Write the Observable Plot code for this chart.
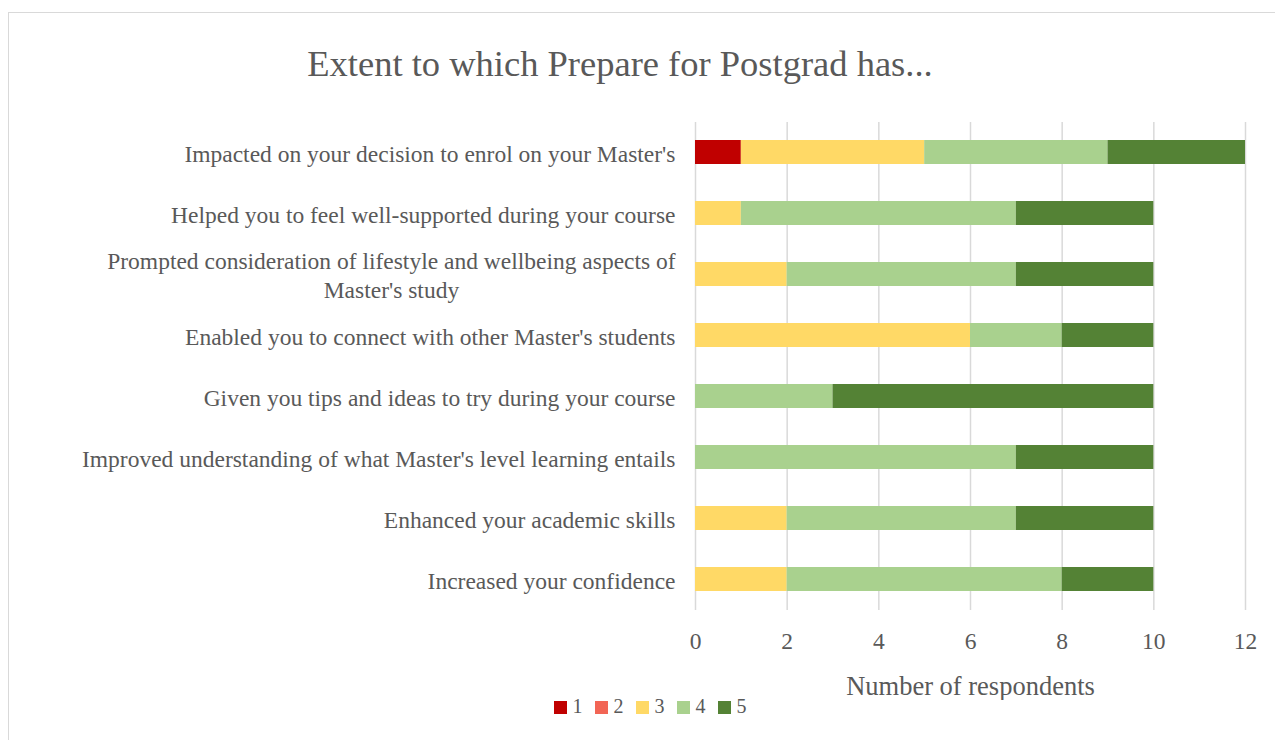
<!DOCTYPE html>
<html>
<head>
<meta charset="utf-8">
<script src="https://cdn.jsdelivr.net/npm/d3@7"></script>
<script src="https://cdn.jsdelivr.net/npm/@observablehq/plot@0.6"></script>
<style>
  html, body { margin: 0; padding: 0; background: #fff; width: 1275px; height: 740px; overflow: hidden; position: relative; font-family: "Liberation Serif", "DejaVu Serif", serif; color: #595959; }
  #frame { position: absolute; left: 8px; top: 12px; width: 1400px; height: 900px; border: 1.5px solid #d9d9d9; box-sizing: border-box; pointer-events: none; }
  #title { position: absolute; left: 0; width: 1240px; top: 42px; text-align: center; font-size: 36.5px; line-height: 44px; color: #595959; }
  #chart { position: absolute; left: 0; top: 100px; }
  #legend { position: absolute; left: 0; width: 1300px; top: 695px; text-align: center; font-size: 20px; color: #595959; }
  #legend span.item { display: inline-block; margin: 0 6px; }
  #legend span.sw { display: inline-block; width: 13px; height: 13px; margin-right: 6px; vertical-align: -1px; }
</style>
</head>
<body>
<div id="frame"></div>
<div id="title">Extent to which Prepare for Postgrad has...</div>
<div id="chart"></div>
<div id="legend"></div>
<script>
const questions = [
  "Impacted on your decision to enrol on your Master's",
  "Helped you to feel well-supported during your course",
  "Prompted consideration of lifestyle and wellbeing aspects of Master's study",
  "Enabled you to connect with other Master's students",
  "Given you tips and ideas to try during your course",
  "Improved understanding of what Master's level learning entails",
  "Enhanced your academic skills",
  "Increased your confidence"
];
const questionLabels = [
  "Impacted on your decision to enrol on your Master's",
  "Helped you to feel well-supported during your course",
  "Prompted consideration of lifestyle and wellbeing aspects of\nMaster's study",
  "Enabled you to connect with other Master's students",
  "Given you tips and ideas to try during your course",
  "Improved understanding of what Master's level learning entails",
  "Enhanced your academic skills",
  "Increased your confidence"
];
const ratings = ["1", "2", "3", "4", "5"];
const rating1 = [1, 0, 0, 0, 0, 0, 0, 0];
const rating2 = [0, 0, 0, 0, 0, 0, 0, 0];
const rating3 = [4, 1, 2, 6, 0, 0, 2, 2];
const rating4 = [4, 6, 5, 2, 3, 7, 5, 6];
const rating5 = [3, 3, 3, 2, 7, 3, 3, 2];
const ratingColors = ["#C00000", "#F26555", "#FFD966", "#A9D18E", "#548235"];
const xTicks = [0, 2, 4, 6, 8, 10, 12];

const series = [rating1, rating2, rating3, rating4, rating5];
const rows = [];
questions.forEach((q, i) => {
  ratings.forEach((r, j) => {
    rows.push({question: q, rating: r, count: series[j][i]});
  });
});
const labelOf = new Map(questions.map((q, i) => [q, questionLabels[i]]));

const chart = Plot.plot({
  width: 1275,
  height: 600,
  marginLeft: 695,
  marginRight: 30,
  marginTop: 22,
  marginBottom: 90,
  style: {fontFamily: "'Liberation Serif', 'DejaVu Serif', serif", color: "#595959", background: "transparent"},
  x: {domain: [0, 12], ticks: xTicks},
  y: {domain: questions, paddingInner: 0.6, paddingOuter: 0.3},
  color: {domain: ratings, range: ratingColors},
  marks: [
    Plot.gridX(xTicks, {stroke: "#d9d9d9", strokeWidth: 1.5, strokeOpacity: 1}),
    Plot.barX(rows, Plot.stackX({y: "question", x: "count", fill: "rating", order: ratings})),
    Plot.axisX({ticks: xTicks, tickSize: 0, tickPadding: 22, fontSize: 23.5, label: null}),
    Plot.axisX({ticks: [], tickSize: 0, fontSize: 26.5, label: "Number of respondents", labelAnchor: "center", labelArrow: "none", labelOffset: 84}),
    Plot.axisY({tickSize: 0, tickPadding: 20, fontSize: 23.5, lineHeight: 1.2, tickFormat: d => labelOf.get(d), label: null})
  ]
});
document.getElementById("chart").appendChild(chart);

// centre multi-line tick labels within their own block, as in the reference
chart.querySelectorAll("text").forEach(t => {
  const spans = t.querySelectorAll("tspan");
  if (spans.length > 1) {
    const bb = t.getBBox();
    const cx = bb.x + bb.width / 2;
    t.setAttribute("text-anchor", "middle");
    spans.forEach(s => s.setAttribute("x", cx));
  }
});

const legend = document.getElementById("legend");
ratings.forEach((r, i) => {
  const item = document.createElement("span");
  item.className = "item";
  const sw = document.createElement("span");
  sw.className = "sw";
  sw.style.background = ratingColors[i];
  item.appendChild(sw);
  item.appendChild(document.createTextNode(r));
  legend.appendChild(item);
});
</script>
</body>
</html>
